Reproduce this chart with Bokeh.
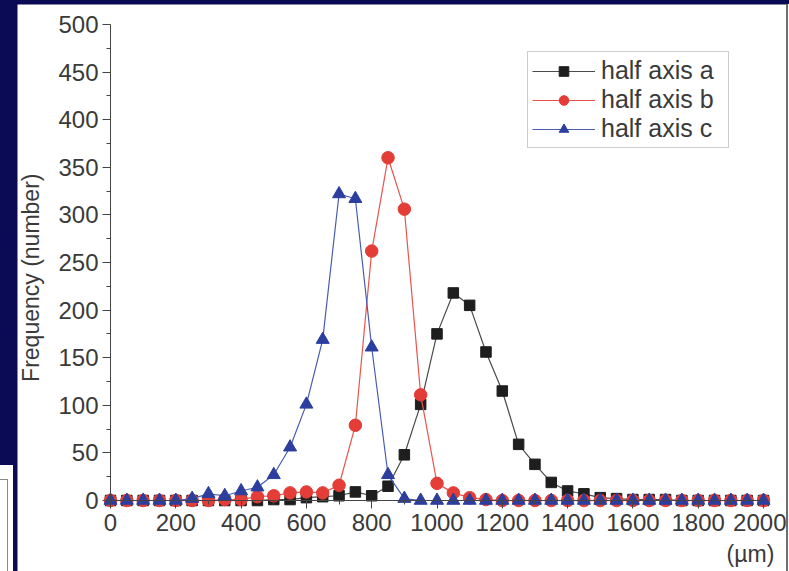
import math
from bokeh.plotting import figure
from bokeh.models import (Range1d, Label, Legend, LegendItem, FixedTicker,
                          GlobalInlineStyleSheet)
from bokeh.embed import file_html
from bokeh.resources import INLINE

# ---------------- data ----------------
x_um = [0, 50, 100, 150, 200, 250, 300, 350, 400, 450,
        500, 550, 600, 650, 700, 750, 800, 850, 900, 950,
        1000, 1050, 1100, 1150, 1200, 1250, 1300, 1350, 1400, 1450,
        1500, 1550, 1600, 1650, 1700, 1750, 1800, 1850, 1900, 1950, 2000]

half_axis_a = [0, 0, 0, 0, 0, 0, 0, 0, 0, 0,
               1, 1, 3, 4, 5, 9, 5, 15, 48, 101,
               175, 218, 205, 156, 115, 59, 38, 19, 10, 7,
               3, 2, 1, 1, 1, 0, 0, 0, 0, 0, 0]

half_axis_b = [0, 0, 0, 0, 0, 0, 0, 1, 1, 4,
               5, 8, 9, 8, 16, 79, 262, 360, 306, 111,
               18, 8, 3, 1, 0, 0, 0, 0, 0, 0,
               0, 0, 0, 0, 0, 0, 0, 0, 0, 0, 0]

half_axis_c = [0, 0, 0, 0, 0, 2, 7, 5, 10, 14,
               27, 56, 101, 169, 322, 317, 161, 27, 2, 0,
               0, 0, 0, 0, 0, 0, 0, 0, 0, 0,
               0, 0, 0, 0, 0, 0, 0, 0, 0, 0, 0]

series_labels = ["half axis a", "half axis b", "half axis c"]
x_ticks = [0, 200, 400, 600, 800, 1000, 1200, 1400, 1600, 1800, 2000]
y_ticks = [0, 50, 100, 150, 200, 250, 300, 350, 400, 450, 500]

# ---------------- style ----------------
NAVY = "#0a0a55"
TXT = "#3a3a3a"
AX = "#444444"
FONT = "Liberation Sans"

css = f"""
html {{
  background:
    linear-gradient(#6e6e6e,#6e6e6e) 786px 4px / 2px 567px no-repeat,
    linear-gradient(#ffffff,#ffffff) 788px 4px / 1px 567px no-repeat,
    linear-gradient(#8a8a8a,#8a8a8a) 0px 479px / 8px 1px no-repeat,
    linear-gradient(#8a8a8a,#8a8a8a) 7px 479px / 1px 92px no-repeat,
    linear-gradient(#ffffff,#ffffff) 0px 465px / 13px 106px no-repeat,
    {NAVY};
  overflow: hidden;
}}
body {{ margin: 4px 0 0 17px; overflow: hidden; background: transparent; }}
"""

p = figure(width=769, height=567,
           x_range=Range1d(-284.84, 2070.44), y_range=Range1d(-74.58, 521.01),
           output_backend="svg", toolbar_location=None,
           min_border_left=0, min_border_right=0,
           min_border_top=0, min_border_bottom=0,
           background_fill_color="white", border_fill_color="white",
           outline_line_color=None)
p.outline_line_alpha = 0
p.stylesheets = [GlobalInlineStyleSheet(css=css)]
p.grid.visible = False

for ax in (p.xaxis[0], p.yaxis[0]):
    ax.fixed_location = 0
    ax.axis_line_color = AX
    ax.axis_line_width = 1
    ax.major_tick_line_color = AX
    ax.minor_tick_line_color = AX
    ax.major_tick_out = 8
    ax.major_tick_in = 0
    ax.minor_tick_out = 4
    ax.minor_tick_in = 0
    ax.major_label_text_font = FONT
    ax.major_label_text_font_size = "24px"
    ax.major_label_text_color = TXT
    ax.major_label_standoff = 5

p.xaxis.bounds = (x_ticks[0], x_ticks[-1])
p.yaxis.bounds = (y_ticks[0], y_ticks[-1])
p.yaxis.major_label_standoff = 4
p.xaxis.ticker = FixedTicker(ticks=x_ticks,
                             minor_ticks=[t + 100 for t in x_ticks[:-1]])
p.yaxis.ticker = FixedTicker(ticks=y_ticks,
                             minor_ticks=[t + 25 for t in y_ticks[:-1]])

# series
la = p.line(x_um, half_axis_a, line_color="#4a4a4a", line_width=1.2)
sa = p.scatter(x_um, half_axis_a, marker="square", size=10.5,
               fill_color="#1e1e1e", line_color="#1e1e1e")
lb = p.line(x_um, half_axis_b, line_color="#e8544e", line_width=1.2)
sb = p.scatter(x_um, half_axis_b, marker="circle", size=12.5,
               fill_color="#e43c36", line_color="#e43c36")
lc = p.line(x_um, half_axis_c, line_color="#4a5cb2", line_width=1.2)
sc = p.scatter(x_um, half_axis_c, marker="triangle", size=13,
               fill_color="#2c3e9e", line_color="#2c3e9e")

legend = Legend(items=[LegendItem(label=series_labels[0], renderers=[la, sa]),
                       LegendItem(label=series_labels[1], renderers=[lb, sb]),
                       LegendItem(label=series_labels[2], renderers=[lc, sc])],
                location=(510, 423), orientation="vertical", margin=0,
                padding=4, spacing=-3, label_height=24, glyph_height=24,
                glyph_width=63, label_standoff=6, label_width=123,
                label_text_font=FONT, label_text_font_size="25px",
                label_text_color=TXT,
                border_line_color="#9a9a9a", border_line_width=1,
                background_fill_color="white", background_fill_alpha=1.0)
p.add_layout(legend, "center")

p.add_layout(Label(x=-242, y=234, text="Frequency (number)", angle=math.pi / 2,
                   text_align="center", text_baseline="middle",
                   text_font=FONT, text_font_size="23px", text_color=TXT))
p.add_layout(Label(x=1960, y=-55.7, text="(µm)",
                   text_align="center", text_baseline="middle",
                   text_font=FONT, text_font_size="23px", text_color=TXT))

open("out.html", "w").write(file_html(p, INLINE))
